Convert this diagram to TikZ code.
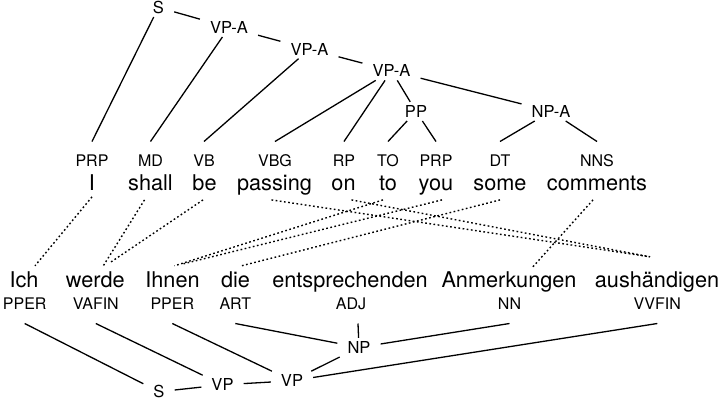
\documentclass[tikz,border=0pt]{standalone}
\usepackage{fontspec}
\setmainfont{TeX Gyre Heros}
\begin{document}
\begin{tikzpicture}[x=1pt,y=-1pt,
  nt/.style={font=\fontsize{16.5}{20}\selectfont, inner xsep=10pt, inner ysep=3.5pt, text height=11.8pt, text depth=0pt, anchor=base},
  ttag/.style={font=\fontsize{16}{19}\selectfont, inner sep=0pt, text height=25pt, text depth=0pt, anchor=base},
  btag/.style={font=\fontsize{16}{19}\selectfont, inner sep=0pt, text height=12pt, text depth=14pt, anchor=base},
  tword/.style={font=\fontsize{21.7}{26}\selectfont, inner sep=0pt, text height=16pt, text depth=9pt, anchor=base},
  bword/.style={font=\fontsize{21.7}{26}\selectfont, inner sep=0pt, text height=21pt, text depth=5pt, anchor=base},
  treeline/.style={line width=1.3pt},
  linkline/.style={line width=1.4pt, dash pattern=on 1.7pt off 2.5pt},
]
\useasboundingbox (0,0) rectangle (721,400);

% top tree nonterminals
\node[nt] (S) at (158.5,13.3) {S};
\node[nt] (vpa1) at (229,33.3) {VP-A};
\node[nt] (vpa2) at (309.5,55) {VP-A};
\node[nt] (vpa3) at (391.5,76.7) {VP-A};
\node[nt] (pp) at (416,117.3) {PP};
\node[nt] (npa) at (551,117.3) {NP-A};

% top tags
\node[ttag] (tprp) at (92,166.7) {PRP};
\node[ttag] (tmd) at (150.5,166.7) {MD};
\node[ttag] (tvb) at (204,166.7) {VB};
\node[ttag] (tvbg) at (275,166.7) {VBG};
\node[ttag] (trp) at (344,166.7) {RP};
\node[ttag] (tto) at (388,166.7) {TO};
\node[ttag] (tprp2) at (436,166.7) {PRP};
\node[ttag] (tdt) at (500,166.7) {DT};
\node[ttag] (tnns) at (597,166.7) {NNS};

% top words
\node[tword] (wI) at (92,190.7) {I};
\node[tword] (wshall) at (150.5,190.7) {shall};
\node[tword] (wbe) at (204.5,190.7) {be};
\node[tword] (wpassing) at (274.5,190.7) {passing};
\node[tword] (won) at (343.5,190.7) {on};
\node[tword] (wto) at (388,190.7) {to};
\node[tword] (wyou) at (436,190.7) {you};
\node[tword] (wsome) at (500,190.7) {some};
\node[tword] (wcomments) at (597,190.7) {comments};

% bottom words
\node[bword] (gIch) at (24,287) {Ich};
\node[bword] (gwerde) at (95.3,287) {werde};
\node[bword] (gIhnen) at (172.5,287) {Ihnen};
\node[bword] (gdie) at (235.5,287) {die};
\node[bword] (gents) at (350,287) {entsprechenden};
\node[bword] (ganm) at (509,287) {Anmerkungen};
\node[bword] (gaus) at (657,287) {aushändigen};

% bottom tags
\node[btag] (bpper) at (24.7,309.3) {PPER};
\node[btag] (bvafin) at (95.8,309.3) {VAFIN};
\node[btag] (bpper2) at (172.3,309.3) {PPER};
\node[btag] (bart) at (235.3,309.3) {ART};
\node[btag] (badj) at (351,309.3) {ADJ};
\node[btag] (bnn) at (509.5,309.3) {NN};
\node[btag] (bvvfin) at (657.3,309.3) {VVFIN};

% bottom tree nonterminals
\node[nt] (np) at (359,353.3) {NP};
\node[nt] (vp2) at (292,386.7) {VP};
\node[nt] (vp1) at (222.5,390.7) {VP};
\node[nt] (S2) at (159,397.6) {S};

% top tree edges
\draw[treeline] (S) -- (tprp.north);
\draw[treeline] (S) -- (vpa1);
\draw[treeline] (vpa1) -- (tmd.north);
\draw[treeline] (vpa1) -- (vpa2);
\draw[treeline] (vpa2) -- (tvb.north);
\draw[treeline] (vpa2) -- (vpa3);
\draw[treeline] (vpa3) -- (tvbg.north);
\draw[treeline] (vpa3) -- (trp.north);
\draw[treeline] (vpa3) -- (pp);
\draw[treeline] (vpa3) -- (npa);
\draw[treeline] (pp) -- (tto.north);
\draw[treeline] (pp) -- (tprp2.north);
\draw[treeline] (npa) -- (tdt.north);
\draw[treeline] (npa) -- (tnns.north);

% bottom tree edges
\draw[treeline] (bpper.south) -- (S2);
\draw[treeline] (bvafin.south) -- (vp1);
\draw[treeline] (bpper2.south) -- (vp2);
\draw[treeline] (bart.south) -- (np);
\draw[treeline] ([xshift=7pt]badj.south) -- (np);
\draw[treeline] (bnn.south) -- (np);
\draw[treeline] (np) -- (vp2);
\draw[treeline] (vp2) -- (bvvfin.south);
\draw[treeline] (vp1) -- (vp2);
\draw[treeline] (S2) -- (vp1);

% alignment links
\draw[linkline] ([yshift=3pt]wI.south) -- ([xshift=11pt]gIch.north);
\draw[linkline] ([xshift=-6pt]wshall.south) -- ([xshift=8pt]gwerde.north);
\draw[linkline] ([xshift=-1.5pt]wbe.south) -- ([xshift=14pt,yshift=2.7pt]gwerde.north);
\draw[linkline] ([xshift=-3pt]wpassing.south) -- ([xshift=-7pt,yshift=9pt]gaus.north);
\draw[linkline] ([xshift=8pt]won.south) -- ([xshift=-7pt,yshift=9pt]gaus.north);
\draw[linkline] ([xshift=-5pt]wto.south) -- ([xshift=2pt]gIhnen.north);
\draw[linkline] ([xshift=6pt]wyou.south) -- ([xshift=9pt,yshift=1.5pt]gIhnen.north);
\draw[linkline] (wsome.south) -- ([xshift=6pt]gdie.north);
\draw[linkline] ([xshift=-4pt]wcomments.south) -- ([xshift=23pt,yshift=-2pt]ganm.north);
\end{tikzpicture}
\end{document}
